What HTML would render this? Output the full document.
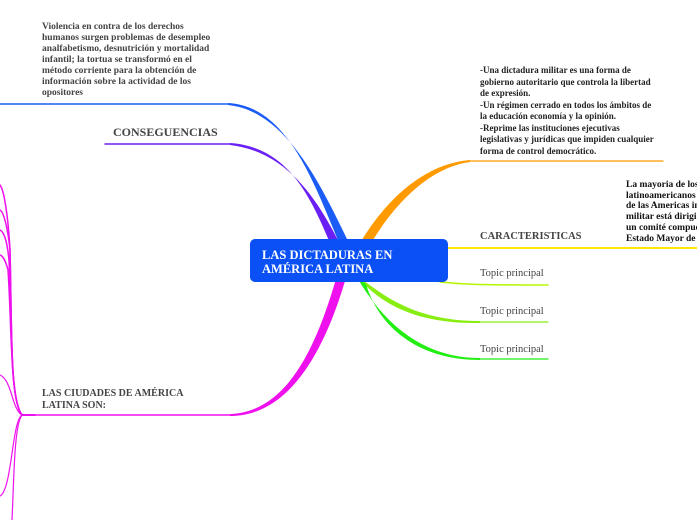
<!DOCTYPE html>
<html><head><meta charset="utf-8"><style>
body{margin:0;background:#fff;width:697px;height:520px;overflow:hidden;position:relative;font-family:"Liberation Serif",serif}
.t{position:absolute;font-weight:bold;color:#444;white-space:nowrap}
</style></head><body>
<svg width="697" height="520" style="position:absolute;left:0;top:0" fill="none" stroke-linecap="round">
<path d="M228 104 L0 104" stroke="#1a5cf5" stroke-width="1.5"/>
<path d="M341 247 C316 190 290 106 228 103 L228 105 C288 111 323 190 350 245 Z" fill="#1a5cf5"/>
<path d="M230 144 L105 144" stroke="#6a1ff5" stroke-width="1.5"/>
<path d="M333 250 C312 200 290 147 230 143 L230 145 C288 152 318 200 342 248 Z" fill="#6a1ff5"/>
<path d="M230 415 L22 415" stroke="#ee11ee" stroke-width="1.5"/>
<path d="M336 279 C318 340 290 412 230 414 L230 416 C292 416 326 345 345 281 Z" fill="#ee11ee"/>
<path d="M22 415 C10 400 12 330 10 250 C8 215 4 190 0 185" stroke="#ee11ee" stroke-width="1.5"/>
<path d="M22 415 C10 400 12 330 10 250 C8 230 4 212 0 210" stroke="#ee11ee" stroke-width="1.5"/>
<path d="M22 415 C10 400 12 330 9 260 C7 240 4 232 0 230" stroke="#ee11ee" stroke-width="1.5"/>
<path d="M22 415 C10 400 12 330 8 270 C6 262 3 256 0 255" stroke="#ee11ee" stroke-width="1.5"/>
<path d="M22 415 C12 410 12 380 0 375" stroke="#ee11ee" stroke-width="1.2"/>
<path d="M22 415 C12 420 12 490 0 496" stroke="#ee11ee" stroke-width="1.2"/>
<path d="M22 415 C14 425 14 480 12 520" stroke="#ee11ee" stroke-width="1.2"/>
<path d="M22 415 L35 415" stroke="#ee11ee" stroke-width="2"/>
<path d="M470 161 L663 161" stroke="#ff9a00" stroke-width="1.2"/>
<path d="M356 250 C378 210 418 164 470 160 L470 162 C425 168 388 212 366 252 Z" fill="#ff9a00"/>
<path d="M440 248 L697 248" stroke="#ffe600" stroke-width="2"/>
<path d="M440 282 C460 284 470 285 548 285" stroke="#b5f500" stroke-width="1.5"/>
<path d="M480 322 L548 322" stroke="#88ee11" stroke-width="1.2"/>
<path d="M358 276 C388 300 420 321 480 321 L480 323 C418 324 385 305 364 284 Z" fill="#88ee11"/>
<path d="M480 359 L548 359" stroke="#22ee11" stroke-width="1.2"/>
<path d="M358 279 C382 320 420 358 480 358 L480 360 C416 360 378 325 366 284 Z" fill="#22ee11"/>
</svg>
<div style="position:absolute;left:250px;top:239px;width:198px;height:43px;background:#0a50f5;border-radius:5px"></div>
<div class="t" style="left:262px;top:248px;color:#fff;font-size:12.5px;line-height:14px">LAS DICTADURAS EN<br>AMÉRICA LATINA</div>
<div class="t" style="left:42px;top:22px;font-size:9.5px;line-height:11px">Violencia en contra de los derechos<br>humanos surgen problemas de desempleo<br>analfabetismo, desnutrición y mortalidad<br>infantil; la tortua se transformó en el<br>método corriente para la obtención de<br>información sobre la actividad de los<br>opositores</div>
<div class="t" style="left:113px;top:125px;font-size:12px">CONSEGUENCIAS</div>
<div class="t" style="left:42px;top:388px;font-size:10px;line-height:11.5px">LAS CIUDADES DE AMÉRICA<br>LATINA SON:</div>
<div class="t" style="left:480px;top:65px;font-size:9px;line-height:11.5px;color:#222">-Una dictadura militar es una forma de<br>gobierno autoritario que controla la libertad<br>de expresión.<br>-Un régimen cerrado en todos los ámbitos de<br>la educación economía y la opinión.<br>-Reprime las instituciones ejecutivas<br>legislativas y jurídicas que impiden cualquier<br>forma de control democrático.</div>
<div class="t" style="left:626px;top:180px;font-size:9.5px;line-height:10.7px;color:#111">La mayoria de los<br>latinoamericanos<br>de las Americas in<br>militar está dirigi<br>un comité compue<br>Estado Mayor de</div>
<div class="t" style="left:480px;top:231px;font-size:10.5px">CARACTERISTICAS</div>
<div class="t" style="left:480px;top:268px;font-size:10.5px;font-weight:normal">Topic principal</div>
<div class="t" style="left:480px;top:306px;font-size:10.5px;font-weight:normal">Topic principal</div>
<div class="t" style="left:480px;top:344px;font-size:10.5px;font-weight:normal">Topic principal</div>
</body></html>
